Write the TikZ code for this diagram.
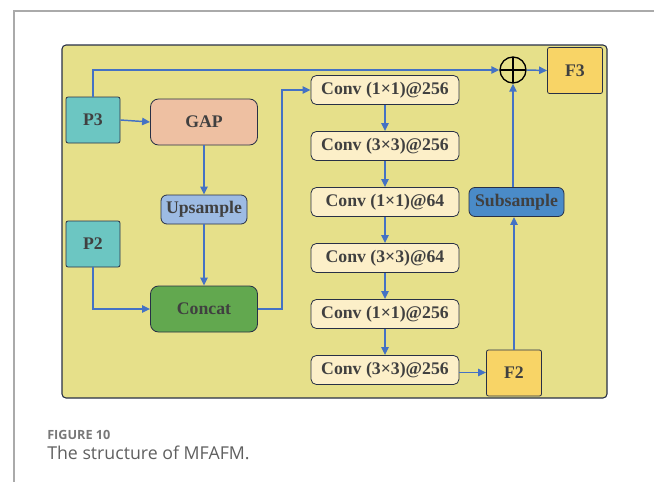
\documentclass[tikz,border=0pt]{standalone}
\usepackage{fontspec}
\setmainfont{Liberation Serif}
\newfontfamily\capfont{Open Sans}
\usepackage{tikz}
\usetikzlibrary{arrows.meta}
\usetikzlibrary{calc}

\definecolor{panelYellow}{RGB}{230,224,138}
\definecolor{tealBox}{RGB}{108,198,194}
\definecolor{gapSalmon}{RGB}{238,192,162}
\definecolor{upBlue}{RGB}{157,187,227}
\definecolor{concatGreen}{RGB}{98,168,79}
\definecolor{convCream}{RGB}{252,239,200}
\definecolor{subBlue}{RGB}{74,139,200}
\definecolor{fGold}{RGB}{248,212,102}
\definecolor{arrBlue}{RGB}{68,114,196}
\definecolor{boxLine}{RGB}{40,48,70}
\definecolor{txtGray}{RGB}{64,64,64}

\begin{document}
\begin{tikzpicture}[x=0.75pt,y=0.75pt,yscale=-1,xscale=1,
    blk/.style={draw=boxLine, line width=0.6pt, text=txtGray, inner sep=0pt, align=center,
        font=\fontsize{13.3}{16}\selectfont\bfseries},
    pbox/.style={blk, fill=tealBox, minimum width=40.5pt, minimum height=34.5pt, rounded corners=1.5pt},
    fbox/.style={blk, fill=fGold, minimum width=41.25pt, minimum height=34.5pt, rounded corners=1.5pt},
    bigbox/.style={blk, minimum width=80.25pt, minimum height=34.5pt, rounded corners=6pt},
    convbox/.style={blk, fill=convCream, minimum width=111pt, minimum height=21.75pt, rounded corners=4pt},
    arr/.style={draw=arrBlue, line width=1.1pt, -{Triangle[length=6pt,width=5.5pt]}}]
    \path[use as bounding box] (0,0) rectangle (654,482);

    % Frame
    \draw[color={rgb,255:red,170;green,170;blue,170}, line width=0.8pt] (654,11) -- (14,11) -- (14,482);
    % Shape: Panel
    \draw[draw=boxLine, line width=0.8pt, fill=panelYellow, rounded corners=3pt] (62,45) rectangle (607,398);

    % Inputs
    \draw (93,120) node (p3) [pbox] {P3};
    \draw (93,244) node (p2) [pbox] {P2};
    % GAP branch
    \draw (204,122) node (gap) [bigbox, fill=gapSalmon] {GAP};
    \draw (204,209.5) node (upsample) [blk, fill=upBlue, minimum width=64.5pt, minimum height=21.75pt, rounded corners=4.5pt] {Upsample};
    \draw (204,309) node (concat) [bigbox, fill=concatGreen] {Concat};
    % Conv stack
    \draw (385,90) node (conv1) [convbox] {Conv (1×1)@256};
    \draw (385,146) node (conv2) [convbox] {Conv (3×3)@256};
    \draw (385,202) node (conv3) [convbox] {Conv (1×1)@64};
    \draw (385,258) node (conv4) [convbox] {Conv (3×3)@64};
    \draw (385,314) node (conv5) [convbox] {Conv (1×1)@256};
    \draw (385,370) node (conv6) [convbox] {Conv (3×3)@256};
    % Outputs
    \draw (514,373) node (f2) [fbox] {F2};
    \draw (516.5,202) node (subsample) [blk, fill=subBlue, minimum width=71.25pt, minimum height=21.75pt, rounded corners=4.5pt] {Subsample};
    \draw (513,70) node (oplus) [circle, draw=black, line width=1pt, minimum size=19.5pt, inner sep=0pt,
        path picture={\draw[line width=1pt] (path picture bounding box.north) -- (path picture bounding box.south)
            (path picture bounding box.west) -- (path picture bounding box.east);}] {};
    \draw (575,70.5) node (f3) [fbox] {F3};

    % Connectors
    \draw[arr] (p3.north) |- (oplus.west);
    \draw[arr] (oplus.east) -- (f3.west);
    \draw[arr] (p3.east) -- (gap.west);
    \draw[arr] (gap.south) -- (upsample.north);
    \draw[arr] (upsample.south) -- (concat.north);
    \draw[arr] (p2.south) |- (concat.west);
    \draw[arr] (concat.east) -- ++(24,0) |- (conv1.west);
    \foreach \a/\b in {conv1/conv2,conv2/conv3,conv3/conv4,conv4/conv5,conv5/conv6}
        \draw[arr] (\a.south) -- (\b.north);
    \coordinate (c6out) at ($(conv6.east)+(0,2.5)$);
    \draw[arr] (c6out) -- (c6out -| f2.west);
    \draw[arr] (f2.north) -- (f2.north |- subsample.south);
    \draw[arr] (oplus.south |- subsample.north) -- (oplus.south);

    % Caption
    \draw (47,435) node (figlabel) [anchor=west, inner sep=0pt, text={rgb,255:red,120;green,120;blue,120}] {\capfont\fontsize{9.5}{11}\selectfont\bfseries FIGURE 10};
    \draw (47,453) node (figcaption) [anchor=west, inner sep=0pt, text={rgb,255:red,95;green,95;blue,95}] {\capfont\fontsize{13.3}{16}\selectfont The structure of MFAFM.};
\end{tikzpicture}
\end{document}
